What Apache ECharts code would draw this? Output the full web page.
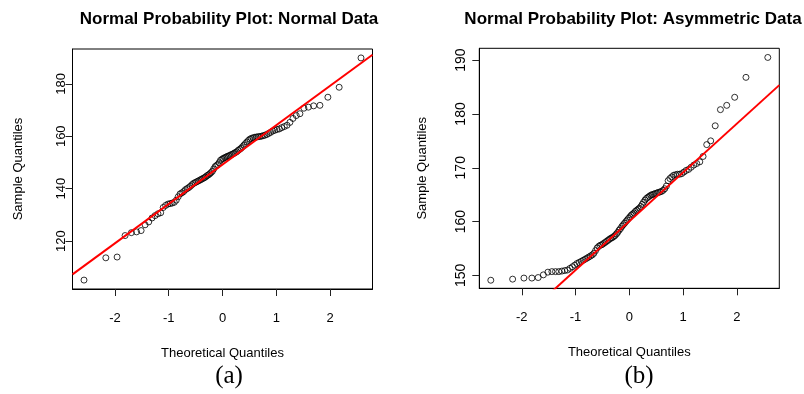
<!DOCTYPE html>
<html>
<head>
<meta charset="utf-8">
<script src="https://cdn.jsdelivr.net/npm/echarts@6/dist/echarts.min.js"></script>
<style>html,body{margin:0;padding:0;background:#fff}#c{width:804px;height:394px}</style>
</head>
<body>
<div id="c"></div>
<script>
// Theoretical normal quantiles (n = 100)
var quantiles = [-2.576,-2.170,-1.960,-1.812,-1.695,-1.598,-1.514,-1.440,-1.372,-1.311,
-1.254,-1.200,-1.150,-1.103,-1.058,-1.015,-0.974,-0.935,-0.896,-0.860,
-0.824,-0.789,-0.755,-0.722,-0.690,-0.659,-0.628,-0.598,-0.568,-0.539,
-0.510,-0.482,-0.454,-0.426,-0.399,-0.372,-0.345,-0.319,-0.292,-0.266,
-0.240,-0.215,-0.189,-0.164,-0.138,-0.113,-0.088,-0.063,-0.038,-0.013,
0.013,0.038,0.063,0.088,0.113,0.138,0.164,0.189,0.215,0.240,
0.266,0.292,0.319,0.345,0.372,0.399,0.426,0.454,0.482,0.510,
0.539,0.568,0.598,0.628,0.659,0.690,0.722,0.755,0.789,0.824,
0.860,0.896,0.935,0.974,1.015,1.058,1.103,1.150,1.200,1.254,
1.311,1.372,1.440,1.514,1.598,1.695,1.812,1.960,2.170,2.576];

// Sample quantiles, plot (a): normal data
var normalData = [105.1,113.6,113.9,122.1,123.2,123.5,124.0,126.2,127.3,128.8,
129.7,130.4,130.8,132.8,133.6,134.1,134.3,134.5,134.8,135.6,
136.9,138.0,138.4,138.9,139.6,140.0,140.4,140.9,141.5,142.0,
142.3,142.6,142.9,143.2,143.5,143.8,144.1,144.4,144.9,145.2,
145.6,146.1,146.6,147.5,148.4,148.8,149.2,149.9,150.8,151.2,
151.5,151.8,152.0,152.3,152.5,152.7,153.0,153.2,153.5,153.8,
154.1,154.6,155.0,155.4,156.0,156.6,157.2,157.8,158.4,158.9,
159.2,159.4,159.6,159.7,159.8,159.9,160.0,160.2,160.4,160.7,
161.1,161.5,162.0,162.3,162.6,162.8,163.3,163.7,164.2,165.3,
166.8,167.9,168.6,170.7,171.1,171.6,171.8,174.9,178.7,189.9];

// Sample quantiles, plot (b): asymmetric data
var asymData = [149.1,149.3,149.5,149.5,149.6,150.1,150.6,150.7,150.7,150.7,
150.8,150.9,151.0,151.3,151.6,151.9,152.2,152.4,152.6,152.8,
153.0,153.2,153.4,153.6,153.8,154.1,154.6,155.1,155.4,155.6,
155.7,155.9,156.1,156.3,156.5,156.7,156.9,157.0,157.2,157.4,
157.7,158.0,158.4,158.7,159.1,159.4,159.7,160.0,160.3,160.6,
160.9,161.2,161.4,161.6,161.9,162.1,162.3,162.5,162.8,163.2,
163.6,164.0,164.3,164.5,164.7,164.9,165.0,165.1,165.2,165.3,
165.4,165.5,165.6,165.8,166.1,166.6,167.6,168.0,168.3,168.6,
168.7,168.8,168.8,168.9,169.2,169.5,169.7,170.1,170.5,170.8,
171.1,172.1,174.3,175.0,177.8,180.8,181.6,183.1,186.8,190.5];

// Reference lines (qqline): [intercept, slope]
var lineA = [149.2, 15.02];
var lineB = [160.05, 9.07];

var xTicks = [-2, -1, 0, 1, 2];
var yTicksA = [120, 140, 160, 180];
var yTicksB = [150, 160, 170, 180, 190];
var xRange = [-2.79, 2.79];
var yRangeA = [101.7, 193.3];
var yRangeB = [147.6, 192.2];

function pts(xs, ys) { return xs.map(function (x, i) { return [x, ys[i]]; }); }
function lineEnds(p) { return xRange.map(function (x) { return [x, p[0] + p[1] * x]; }); }

var font = 'Liberation Sans, Arial, sans-serif';

function xAxis(gi) {
  return {
    type: 'value', gridIndex: gi, min: xRange[0], max: xRange[1],
    name: 'Theoretical Quantiles', nameLocation: 'middle', nameGap: 58,
    nameTextStyle: { fontFamily: font, fontSize: 13, color: '#000' },
    axisLine: { show: true, onZero: false, lineStyle: { color: '#000', width: 1 } },
    axisTick: { show: true, inside: false, length: 7, customValues: xTicks, lineStyle: { color: '#222', width: 1 } },
    axisLabel: { show: true, customValues: xTicks, margin: 23, fontFamily: font, fontSize: 13, color: '#000' },
    splitLine: { show: false }
  };
}
function yAxis(gi, rng, ticks, gap, margin, fs) {
  return {
    type: 'value', gridIndex: gi, min: rng[0], max: rng[1],
    name: 'Sample Quantiles', nameLocation: 'middle', nameGap: gap,
    nameTextStyle: { fontFamily: font, fontSize: 13, color: '#000' },
    axisLine: { show: true, onZero: false, lineStyle: { color: '#000', width: 1 } },
    axisTick: { show: true, inside: false, length: 7, customValues: ticks, lineStyle: { color: '#222', width: 1 } },
    axisLabel: { show: true, customValues: ticks, rotate: 90, margin: margin, fontFamily: font, fontSize: fs, color: '#000' },
    splitLine: { show: false }
  };
}
function scatter(xi, data) {
  return {
    type: 'scatter', xAxisIndex: xi, yAxisIndex: xi, data: data,
    symbol: 'circle', symbolSize: 6,
    itemStyle: { color: 'rgba(255,255,255,0)', borderColor: '#000', borderWidth: 1 },
    silent: true, z: 2
  };
}
function refLine(xi, data) {
  return {
    type: 'line', xAxisIndex: xi, yAxisIndex: xi, data: data, clip: true,
    symbol: 'none', lineStyle: { color: '#ff0000', width: 2 }, silent: true, z: 3
  };
}

var chart = echarts.init(document.getElementById('c'), null, { renderer: 'canvas' });
chart.setOption({
  animation: false,
  backgroundColor: '#fff',
  title: [
    { text: 'Normal Probability Plot: Normal Data', left: 224, top: 6, textAlign: 'center',
      textStyle: { fontFamily: font, fontSize: 17, fontWeight: 'bold', color: '#000' } },
    { text: 'Normal Probability Plot: Asymmetric Data', left: 628, top: 6, textAlign: 'center',
      textStyle: { fontFamily: font, fontSize: 17, fontWeight: 'bold', color: '#000' } },
    { text: '(a)', left: 224, top: 359, textAlign: 'center',
      textStyle: { fontFamily: 'Liberation Serif, Times New Roman, serif', fontSize: 25, fontWeight: 'normal', color: '#000' } },
    { text: '(b)', left: 634, top: 359, textAlign: 'center',
      textStyle: { fontFamily: 'Liberation Serif, Times New Roman, serif', fontSize: 25, fontWeight: 'normal', color: '#000' } }
  ],
  grid: [
    { left: 72.5, top: 49, width: 300, height: 240, show: true, borderColor: '#000', borderWidth: 1, backgroundColor: 'transparent' },
    { left: 479.3, top: 48.3, width: 300, height: 240, show: true, borderColor: '#000', borderWidth: 1, backgroundColor: 'transparent' }
  ],
  xAxis: [xAxis(0), xAxis(1)],
  yAxis: [yAxis(0, yRangeA, yTicksA, 48, 5, 13), yAxis(1, yRangeB, yTicksB, 50, 11, 14)],
  series: [
    scatter(0, pts(quantiles, normalData)),
    refLine(0, lineEnds(lineA)),
    scatter(1, pts(quantiles, asymData)),
    refLine(1, lineEnds(lineB))
  ]
});
</script>
</body>
</html>
